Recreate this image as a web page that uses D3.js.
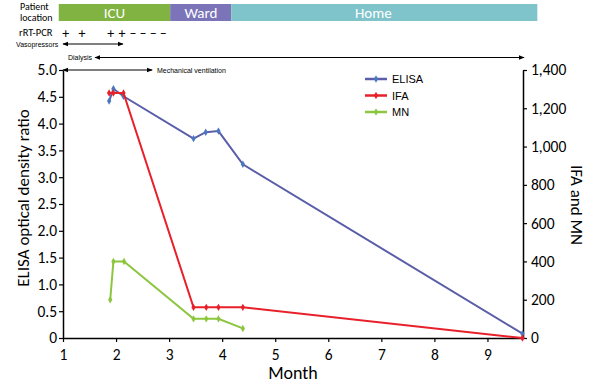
<!DOCTYPE html>
<html><head><meta charset="utf-8">
<script src="https://cdn.jsdelivr.net/npm/d3@7"></script>
<style>body{margin:0;background:#fff;} svg{font-family:Calibri,"Open Sans","Noto Sans",sans-serif;}</style>
</head><body>
<svg id="c" width="600" height="390"></svg>
<script>
// Data
const elisaMonths = [1.87, 1.95, 2.14, 3.46, 3.69, 3.93, 4.39, 9.66];
const elisaValues = [4.42, 4.65, 4.51, 3.72, 3.84, 3.86, 3.24, 0.08];
const ifaMonths = [1.87, 1.95, 2.14, 3.46, 3.70, 3.93, 4.39, 9.66];
const ifaValues = [1280, 1280, 1280, 160, 160, 160, 160, 0];
const mnMonths = [1.89, 1.95, 2.15, 3.46, 3.70, 3.93, 4.39];
const mnValues = [200, 400, 400, 100, 100, 100, 50];
const xTicks = [1, 2, 3, 4, 5, 6, 7, 8, 9];
const leftTicks = [0, 0.5, 1.0, 1.5, 2.0, 2.5, 3.0, 3.5, 4.0, 4.5, 5.0];
const rightTicks = [0, 200, 400, 600, 800, 1000, 1200, 1400];
const locations = ["ICU", "Ward", "Home"];
const locationStart = [0.92, 3.02, 4.17];
const locationEnd = [3.02, 4.17, 9.94];
const pcrResults = ["+", "+", "+", "+", "–", "–", "–", "–"];
const pcrMonths = [1.05, 1.36, 1.9, 2.11, 2.32, 2.51, 2.7, 2.89];

const svg = d3.select("#c");
const x = d3.scaleLinear().domain([1, 9.67]).range([63, 523]);
const yL = d3.scaleLinear().domain([0, 5]).range([338, 70]);
const yR = d3.scaleLinear().domain([0, 1400]).range([338, 70]);

// location bar
const locColors = ["#80b341", "#7b74b9", "#7fc4ca"];
locations.forEach((l, i) => {
  svg.append("rect").attr("x", x(locationStart[i])).attr("y", 4)
    .attr("width", x(locationEnd[i]) - x(locationStart[i])).attr("height", 17)
    .attr("fill", locColors[i]);
});
const locLabelPos = [1.97, 3.6, 6.85];
locations.forEach((l, i) => {
  svg.append("text").attr("x", x(locLabelPos[i])).attr("y", 18).attr("text-anchor", "middle")
    .attr("fill", "#fff").attr("font-size", 15).text(l);
});
svg.append("text").attr("x", 20).attr("y", 9.5).attr("font-size", 10).text("Patient");
svg.append("text").attr("x", 20).attr("y", 21).attr("font-size", 10).text("location");
svg.append("text").attr("x", 19).attr("y", 36).attr("font-size", 10.5).text("rRT-PCR");
pcrResults.forEach((r, i) => {
  svg.append("text").attr("x", x(pcrMonths[i])).attr("y", 37.5).attr("text-anchor", "middle")
    .attr("font-size", 14).text(r);
});

// arrows
const defs = svg.append("defs");
defs.append("marker").attr("id", "ah").attr("viewBox", "0 0 10 10").attr("refX", 9).attr("refY", 5)
  .attr("markerWidth", 6).attr("markerHeight", 6).attr("orient", "auto-start-reverse")
  .append("path").attr("d", "M0,1 L10,5 L0,9 z").attr("fill", "#000");
function arrow(x1, x2, y, both) {
  const l = svg.append("line").attr("x1", x1).attr("x2", x2).attr("y1", y).attr("y2", y)
    .attr("stroke", "#000").attr("stroke-width", 1).attr("marker-end", "url(#ah)");
  if (both) l.attr("marker-start", "url(#ah)");
}
svg.append("text").attr("x", 16).attr("y", 47).attr("font-size", 7).attr("font-family", "Arial, Liberation Sans").text("Vasopressors");
arrow(x(1), x(2.13), 44, true);
svg.append("text").attr("x", 68).attr("y", 60).attr("font-size", 7).attr("font-family", "Arial, Liberation Sans").text("Dialysis");
arrow(95, x(9.69), 57.5, true);
arrow(x(1), x(2.68), 70, true);
svg.append("text").attr("x", 157).attr("y", 73).attr("font-size", 7).attr("font-family", "Arial, Liberation Sans").text("Mechanical ventilation");

// axes
const gx = svg.append("g").attr("transform", "translate(0,338)")
  .call(d3.axisBottom(x).tickValues(xTicks).tickSize(4).tickSizeOuter(0).tickFormat(d3.format("d")));
const gl = svg.append("g").attr("transform", "translate(63,0)")
  .call(d3.axisLeft(yL).tickValues(leftTicks).tickSize(4).tickSizeOuter(0)
    .tickFormat(d => d === 0 ? "0" : d3.format(".1f")(d)));
const gr = svg.append("g").attr("transform", "translate(523,0)")
  .call(d3.axisRight(yR).tickValues(rightTicks).tickSize(4).tickSizeOuter(0).tickFormat(d3.format(",")));
[gx, gl, gr].forEach(g => {
  g.select(".domain").attr("stroke", "#000").attr("stroke-width", 1.5);
  g.selectAll(".tick line").attr("stroke", "#000").attr("stroke-width", 1.2);
  g.selectAll(".tick text").attr("font-size", 15.5).attr("fill", "#000")
    .attr("font-family", "Calibri,'Open Sans','Noto Sans',sans-serif");
});
gx.selectAll(".tick text").attr("dy", "0.95em");
gl.selectAll(".tick text").attr("x", -6);
gr.selectAll(".tick text").attr("x", 8);

svg.append("text").attr("transform", "translate(29,198) rotate(-90)").attr("text-anchor", "middle")
  .attr("font-size", 17).text("ELISA optical density ratio");
svg.append("text").attr("transform", "translate(571,205) rotate(90)").attr("text-anchor", "middle")
  .attr("font-size", 17).text("IFA and MN");
svg.append("text").attr("x", 293).attr("y", 379).attr("text-anchor", "middle")
  .attr("font-size", 18).text("Month");

// series
const series = [
  {name: "ELISA", color: "#5a5ea8", mcolor: "#4a78c0", pts: elisaMonths.map((m, i) => [x(m), yL(elisaValues[i])])},
  {name: "IFA", color: "#e8202a", mcolor: "#e8202a", pts: ifaMonths.map((m, i) => [x(m), yR(ifaValues[i])])},
  {name: "MN", color: "#8cc63f", mcolor: "#8cc63f", pts: mnMonths.map((m, i) => [x(m), yR(mnValues[i])])}
];
const line = d3.line();
const diamond = d3.symbol().type(d3.symbolDiamond).size(16);
series.forEach(s => {
  svg.append("path").attr("d", line(s.pts)).attr("fill", "none").attr("stroke", s.color).attr("stroke-width", 2);
  s.pts.forEach(p => {
    svg.append("path").attr("d", diamond()).attr("transform", `translate(${p[0]},${p[1]})`).attr("fill", s.mcolor);
  });
});

// legend
series.forEach((s, i) => {
  const ly = 79 + i * 16.5;
  svg.append("line").attr("x1", 365).attr("x2", 387).attr("y1", ly).attr("y2", ly)
    .attr("stroke", s.color).attr("stroke-width", 2.5);
  svg.append("path").attr("d", diamond()).attr("transform", `translate(376,${ly})`).attr("fill", s.mcolor);
  svg.append("text").attr("x", 392).attr("y", ly + 4).attr("font-size", 11)
    .attr("font-family", "Arial, Liberation Sans").text(s.name);
});
</script>
</body></html>
